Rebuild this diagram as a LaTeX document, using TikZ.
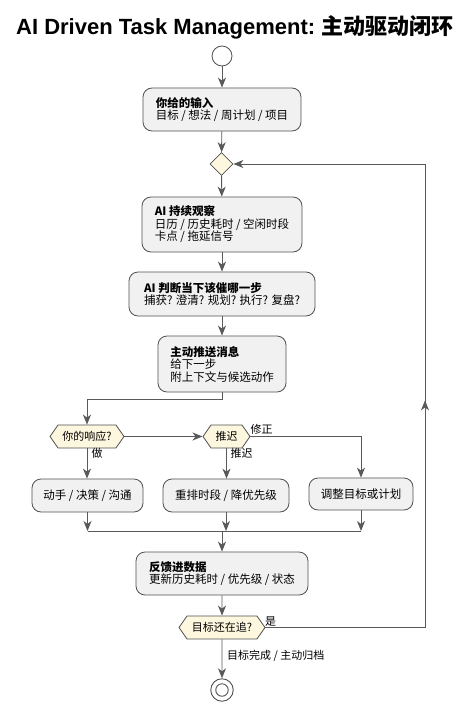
\documentclass[tikz,border=0pt]{standalone}
\usepackage{fontspec}
\setmainfont{Noto Sans CJK SC}
\newfontfamily\titlelat{Liberation Sans}
\usetikzlibrary{arrows.meta,shapes.symbols,shapes.geometric,decorations.markings}
\definecolor{ln}{HTML}{595959}
\definecolor{bx}{HTML}{F1F1F1}
\definecolor{dm}{HTML}{FEF7DF}
\definecolor{bd}{HTML}{505050}
\begin{document}
\begin{tikzpicture}[x=1pt,y=-1pt,
 tip/.style={-{Stealth[length=10pt,width=8pt,inset=3pt]}},
 flow/.style={draw=ln, line width=0.9pt},
 act/.style={draw=bd, fill=bx, rounded corners=9pt, line width=0.8pt, align=left, inner sep=0pt, font=\fontsize{11.5}{12.5}\selectfont},
 hexa/.style={signal, signal to=west and east, signal pointer angle=110, draw=bd, fill=dm, line width=0.8pt, inner xsep=2pt, inner ysep=0pt, minimum height=23pt, font=\fontsize{11}{12}\selectfont},
 lbl/.style={font=\fontsize{11}{12}\selectfont, inner sep=0pt}
]
\useasboundingbox (0,0) rectangle (470,706);
\node[inner sep=0pt, font=\fontsize{22}{25}\selectfont] (title) at (235,27) {{\titlelat\bfseries AI Driven Task Management:} {\bfseries 主动驱动闭环}};
\node[circle, draw=bd, fill=white, minimum size=20pt, inner sep=0pt, line width=0.8pt] (st) at (222,56) {};
\node[act, minimum width=158pt, minimum height=43pt] (b1) at (222,109.5) {\textbf{你给的输入}\\目标 / 想法 / 周计划 / 项目};
\node[diamond, draw=bd, fill=dm, minimum size=23pt, inner sep=0pt, line width=0.8pt] (d1) at (221.5,164) {};
\node[act, minimum width=160pt, minimum height=55pt] (b2) at (222,224.5) {\textbf{AI 持续观察}\\日历 / 历史耗时 / 空闲时段\\卡点 / 拖延信号};
\node[act, minimum width=186pt, minimum height=44pt] (b3) at (222,294) {\textbf{AI 判断当下该催哪一步}\\捕获? 澄清? 规划? 执行? 复盘?};
\node[act, minimum width=128pt, minimum height=56pt] (b4) at (222,364) {\textbf{主动推送消息}\\给下一步\\附上下文与候选动作};
\node[hexa, minimum width=74pt] (h1) at (87,436.5) {你的响应?};
\node[hexa, minimum width=47pt] (h2) at (226.5,436.5) {推迟};
\node[act, minimum width=111pt, minimum height=33pt] (b5) at (87.5,495.5) {动手 / 决策 / 沟通};
\node[act, minimum width=126pt, minimum height=33pt] (b6) at (226,495.5) {重排时段 / 降优先级};
\node[act, minimum width=104pt, minimum height=32pt] (b7) at (361,494) {调整目标或计划};
\node[act, minimum width=172pt, minimum height=43pt] (b8) at (222,573.5) {\textbf{反馈进数据}\\更新历史耗时 / 优先级 / 状态};
\node[hexa, minimum width=86pt] (h3) at (222,627.5) {目标还在追?};
\node[circle, draw=bd, fill=white, minimum size=22.5pt, inner sep=0pt, line width=0.9pt] (en) at (222,690) {};
\node[circle, draw=bd, fill=white, minimum size=12.5pt, inner sep=0pt, line width=0.9pt] (eni) at (en.center) {};
% labels
\node[lbl] (l1) at (97,453.5) {做};
\node[lbl] (l2) at (241.5,453.5) {推迟};
\node[lbl] (l3) at (261.5,429.5) {修正};
\node[lbl] (l4) at (270.5,621.5) {是};
\node[lbl, anchor=west] (l5) at (227,656) {目标完成 / 主动归档};
% coordinates
\coordinate (my) at (0,531);
\coordinate (mc) at (222,531);
\coordinate (lb) at (425,627.5);
\coordinate (lt) at (425,164);
% connectors
\draw[flow,tip] (st) -- (b1);
\draw[flow,tip] (b1) -- (d1);
\draw[flow,tip] (d1) -- (b2);
\draw[flow,tip] (b2) -- (b3);
\draw[flow,tip] (b3) -- (b4);
\draw[flow,tip] (b4.south) -- ++(0,7) -| (h1.north);
\draw[flow,tip] (h1.east) -- (h2.west);
\draw[flow,tip] (h2.east) -| (b7.north);
\draw[flow,tip] (h1.south) -- (h1.south |- b5.north);
\draw[flow,tip] (h2.south) -- (h2.south |- b6.north);
\draw[flow,tip] (b5.south) -- (b5.south |- my);
\draw[flow,tip] (b6.south) -- (b6.south |- my);
\draw[flow,tip] (b7.south) -- (b7.south |- my);
\draw[flow] (b5.south |- my) -- (b7.south |- my);
\draw[flow,tip] (mc) -- (b8);
\draw[flow,tip] (b8) -- (h3);
\draw[flow,tip] (h3) -- (en);
\draw[flow,tip] (h3.east) -- (lb) -- (lt) -- (d1.east);
\path[postaction={decorate}, decoration={markings, mark=at position 0.49 with {\arrow[ln, line width=0.9pt]{Stealth[length=10pt,width=8pt,inset=3pt]}}}] (lb) -- (lt);
\end{tikzpicture}
\end{document}
